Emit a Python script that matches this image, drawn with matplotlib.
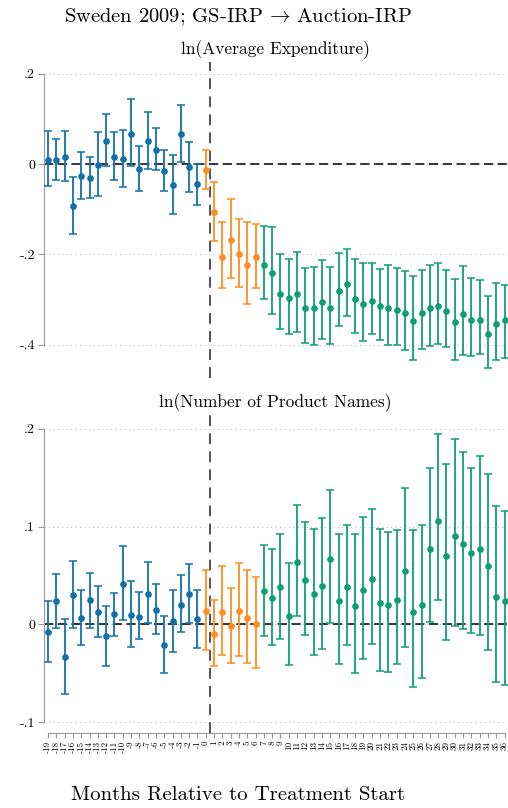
import matplotlib
matplotlib.use('Agg')
import matplotlib.pyplot as plt
import numpy as np

plt.rcParams['font.family'] = ['cmr10', 'DejaVu Serif']
plt.rcParams['mathtext.fontset'] = 'cm'
plt.rcParams['axes.unicode_minus'] = False

months = np.arange(-19, 37)

# ln(Average Expenditure): point estimate, upper and lower CI
exp_b = [0.010, 0.009, 0.016, -0.094, -0.027, -0.031, -0.003, 0.052, 0.016, 0.011,
         0.066, -0.011, 0.051, 0.032, -0.015, -0.047, 0.066, -0.006, -0.044,
         -0.013, -0.107, -0.205, -0.168, -0.200, -0.224, -0.207,
         -0.223, -0.241, -0.287, -0.297, -0.289, -0.318, -0.320, -0.306, -0.319, -0.282,
         -0.266, -0.298, -0.311, -0.303, -0.315, -0.320, -0.323, -0.331, -0.348, -0.329,
         -0.319, -0.315, -0.326, -0.351, -0.332, -0.345, -0.345, -0.377, -0.354, -0.345]
exp_hi = [0.073, 0.055, 0.073, -0.028, 0.026, 0.015, 0.070, 0.111, 0.072, 0.076,
          0.144, 0.040, 0.116, 0.080, 0.032, 0.020, 0.130, 0.049, 0.001,
          0.031, -0.039, -0.129, -0.078, -0.122, -0.129, -0.133,
          -0.138, -0.139, -0.199, -0.210, -0.195, -0.231, -0.229, -0.213, -0.229, -0.196,
          -0.189, -0.211, -0.220, -0.220, -0.232, -0.224, -0.231, -0.238, -0.247, -0.235,
          -0.224, -0.219, -0.235, -0.255, -0.226, -0.253, -0.256, -0.292, -0.263, -0.267]
exp_lo = [-0.048, -0.035, -0.038, -0.155, -0.077, -0.075, -0.071, -0.004, -0.036, -0.050,
          -0.005, -0.060, -0.011, -0.013, -0.060, -0.110, 0.004, -0.061, -0.090,
          -0.055, -0.171, -0.274, -0.252, -0.272, -0.310, -0.274,
          -0.299, -0.333, -0.366, -0.376, -0.373, -0.396, -0.400, -0.388, -0.399, -0.358,
          -0.336, -0.374, -0.391, -0.376, -0.389, -0.402, -0.402, -0.411, -0.435, -0.410,
          -0.403, -0.398, -0.406, -0.435, -0.423, -0.425, -0.421, -0.452, -0.434, -0.430]

# ln(Number of Product Names)
num_b = [-0.0075, 0.0235, -0.033, 0.030, 0.007, 0.0245, 0.013, -0.012, 0.0105, 0.0415,
         0.0095, 0.008, 0.031, 0.015, -0.021, 0.003, 0.020, 0.031, 0.005,
         0.014, -0.0095, 0.013, -0.0015, 0.014, 0.007, 0.0003,
         0.034, 0.027, 0.038, 0.009, 0.064, 0.045, 0.031, 0.0395, 0.067, 0.024,
         0.0385, 0.019, 0.035, 0.046, 0.022, 0.020, 0.025, 0.055, 0.013, 0.020,
         0.0775, 0.106, 0.070, 0.090, 0.082, 0.0725, 0.077, 0.060, 0.0275, 0.0235]
num_hi = [0.0235, 0.052, 0.006, 0.065, 0.035, 0.053, 0.039, 0.019, 0.032, 0.080,
          0.044, 0.033, 0.064, 0.0415, 0.0085, 0.035, 0.050, 0.062, 0.035,
          0.0555, 0.025, 0.060, 0.0375, 0.0625, 0.056, 0.048,
          0.081, 0.077, 0.0925, 0.063, 0.122, 0.105, 0.097, 0.109, 0.137, 0.0925,
          0.1015, 0.0925, 0.110, 0.1175, 0.097, 0.094, 0.096, 0.139, 0.096, 0.1015,
          0.160, 0.195, 0.164, 0.189, 0.176, 0.160, 0.1725, 0.1535, 0.121, 0.116]
num_lo = [-0.038, -0.004, -0.071, -0.004, -0.021, -0.004, -0.013, -0.043, -0.012, 0.004,
          -0.023, -0.015, 0.001, -0.010, -0.050, -0.028, -0.008, 0.001, -0.0245,
          -0.026, -0.0425, -0.031, -0.039, -0.032, -0.0395, -0.045,
          -0.012, -0.021, -0.015, -0.042, 0.009, -0.011, -0.031, -0.025, 0.001, -0.040,
          -0.021, -0.050, -0.035, -0.020, -0.048, -0.049, -0.0405, -0.023, -0.064, -0.055,
          0.002, 0.0245, -0.016, -0.002, -0.005, -0.0085, -0.011, -0.026, -0.059, -0.0615]

colors = {'pre': '#1170AA', 'short': '#FF8C1E', 'long': '#0E9E76'}


def period(m):
    if m < 0:
        return 'pre'
    if m <= 6:
        return 'short'
    return 'long'


def draw_panel(ax, b, hi, lo, title, yticks, ylabels, ylim):
    b, hi, lo = np.array(b), np.array(hi), np.array(lo)
    ax.axhline(0, color='black', lw=1.1, ls=(0, (6, 3)), zorder=1)
    ax.axvline(0.5, color='#444444', lw=1.3, ls=(0, (6, 4)), zorder=1)
    for key in ['pre', 'short', 'long']:
        sel = np.array([period(m) == key for m in months])
        ax.errorbar(months[sel], b[sel], yerr=[b[sel] - lo[sel], hi[sel] - b[sel]],
                    fmt='o', color=colors[key], ms=3.8, elinewidth=1.3,
                    capsize=2.6, capthick=1.1, zorder=3)
    ax.set_xlim(-19.55, 36.3)
    ax.set_ylim(*ylim)
    ax.set_yticks(yticks)
    ax.set_yticklabels(ylabels, fontsize=10)
    ax.yaxis.grid(True, color='#bbbbbb', ls=(0, (1, 3)), lw=0.8)
    ax.set_axisbelow(True)
    for s in ['top', 'right']:
        ax.spines[s].set_visible(False)
    ax.spines['left'].set_color('#999999')
    ax.spines['left'].set_bounds(yticks[0], yticks[-1])
    ax.tick_params(axis='y', color='#999999', length=4, pad=2)
    ax.set_title(title, fontsize=12.5, pad=6)


fig = plt.figure(figsize=(5.08, 8.08), dpi=100)
ax1 = fig.add_axes([43.5 / 508, 1 - 378 / 808, 463.5 / 508, 316 / 808])
ax2 = fig.add_axes([43.5 / 508, 1 - 733 / 808, 463.5 / 508, 318 / 808])

draw_panel(ax1, exp_b, exp_hi, exp_lo, 'ln(Average Expenditure)',
           [-0.4, -0.2, 0, 0.2], ['-.4', '-.2', '0', '.2'], (-0.474, 0.226))
ax1.spines['bottom'].set_visible(False)
ax1.set_xticks([])

draw_panel(ax2, num_b, num_hi, num_lo, 'ln(Number of Product Names)',
           [-0.1, 0, 0.1, 0.2], ['-.1', '0', '.1', '.2'], (-0.111, 0.214))
ax2.spines['bottom'].set_color('#999999')
ax2.spines['bottom'].set_bounds(-19, 36)
ax2.set_xticks(months)
ax2.set_xticklabels([str(m) for m in months], rotation=90, fontsize=6.5)
ax2.tick_params(axis='x', color='#999999', length=3.5, pad=2)

fig.text(238 / 508, 1 - 17 / 808, 'Sweden 2009; GS-IRP$\\,\\rightarrow\\,$Auction-IRP',
         ha='center', va='center', fontsize=14.8)
fig.text(238 / 508, 1 - 795 / 808, 'Months Relative to Treatment Start',
         ha='center', va='center', fontsize=15)

fig.savefig('out.png', dpi=100)
plt.close()
